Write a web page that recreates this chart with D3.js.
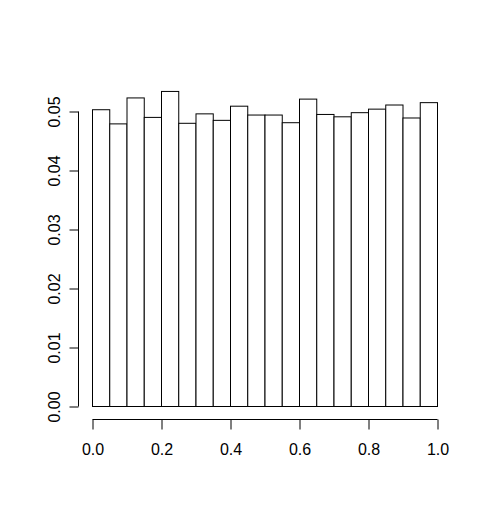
<!DOCTYPE html>
<html><head><meta charset="utf-8">
<script src="https://cdn.jsdelivr.net/npm/d3@7"></script>
<style>body{margin:0;background:#fff}svg{display:block}</style>
</head><body>
<script>
const binEdges = [0,0.05,0.1,0.15,0.2,0.25,0.3,0.35,0.4,0.45,0.5,0.55,0.6,0.65,0.7,0.75,0.8,0.85,0.9,0.95,1.0];
const values = [0.0503,0.0479,0.0523,0.0490,0.0534,0.0480,0.0496,0.0485,0.0509,0.0494,0.0494,0.0481,0.0521,0.0495,0.0491,0.0498,0.0504,0.0511,0.0489,0.0515];
const xTicks = [0,0.2,0.4,0.6,0.8,1.0];
const yTicks = [0,0.01,0.02,0.03,0.04,0.05];

const W=492,H=517;
const svg=d3.select("body").append("svg").attr("width",W).attr("height",H);
const x=d3.scaleLinear().domain([0,1]).range([92.5,437.5]);
const y=d3.scaleLinear().domain([0,0.05]).range([406.5,111.5]);
const font="Liberation Sans, Arial, Helvetica, sans-serif";

svg.append("g").selectAll("rect").data(values).join("rect")
  .attr("x",(d,i)=>x(binEdges[i]))
  .attr("width",(d,i)=>x(binEdges[i+1])-x(binEdges[i]))
  .attr("y",d=>y(d))
  .attr("height",d=>y(0)-y(d))
  .attr("fill","#fff").attr("stroke","#000").attr("stroke-width",1);

const xAxis=d3.axisBottom(x).tickValues(xTicks).tickFormat(d3.format(".1f")).tickSize(10);
const gx=svg.append("g").attr("transform","translate(0,419.5)").call(xAxis);
gx.select(".domain").attr("d",`M${x(0)},0H${x(1)}`).attr("stroke","#000");
gx.selectAll(".tick line").attr("stroke","#000");
gx.selectAll("text").attr("font-family",font).attr("font-size",16).attr("fill","#000")
  .attr("y",35.5).attr("dy",0);

const yAxis=d3.axisLeft(y).tickValues(yTicks).tickFormat(d3.format(".2f")).tickSize(9);
const gy=svg.append("g").attr("transform","translate(78.5,0)").call(yAxis);
gy.select(".domain").attr("d",`M0,${y(0)}V${y(0.05)}`).attr("stroke","#000");
gy.selectAll(".tick line").attr("stroke","#000");
gy.selectAll("text").attr("font-family",font).attr("font-size",16).attr("fill","#000")
  .attr("x",0).attr("y",0).attr("dy",0).attr("text-anchor","middle")
  .attr("transform","translate(-18.5,0) rotate(-90)");
</script>
</body></html>
